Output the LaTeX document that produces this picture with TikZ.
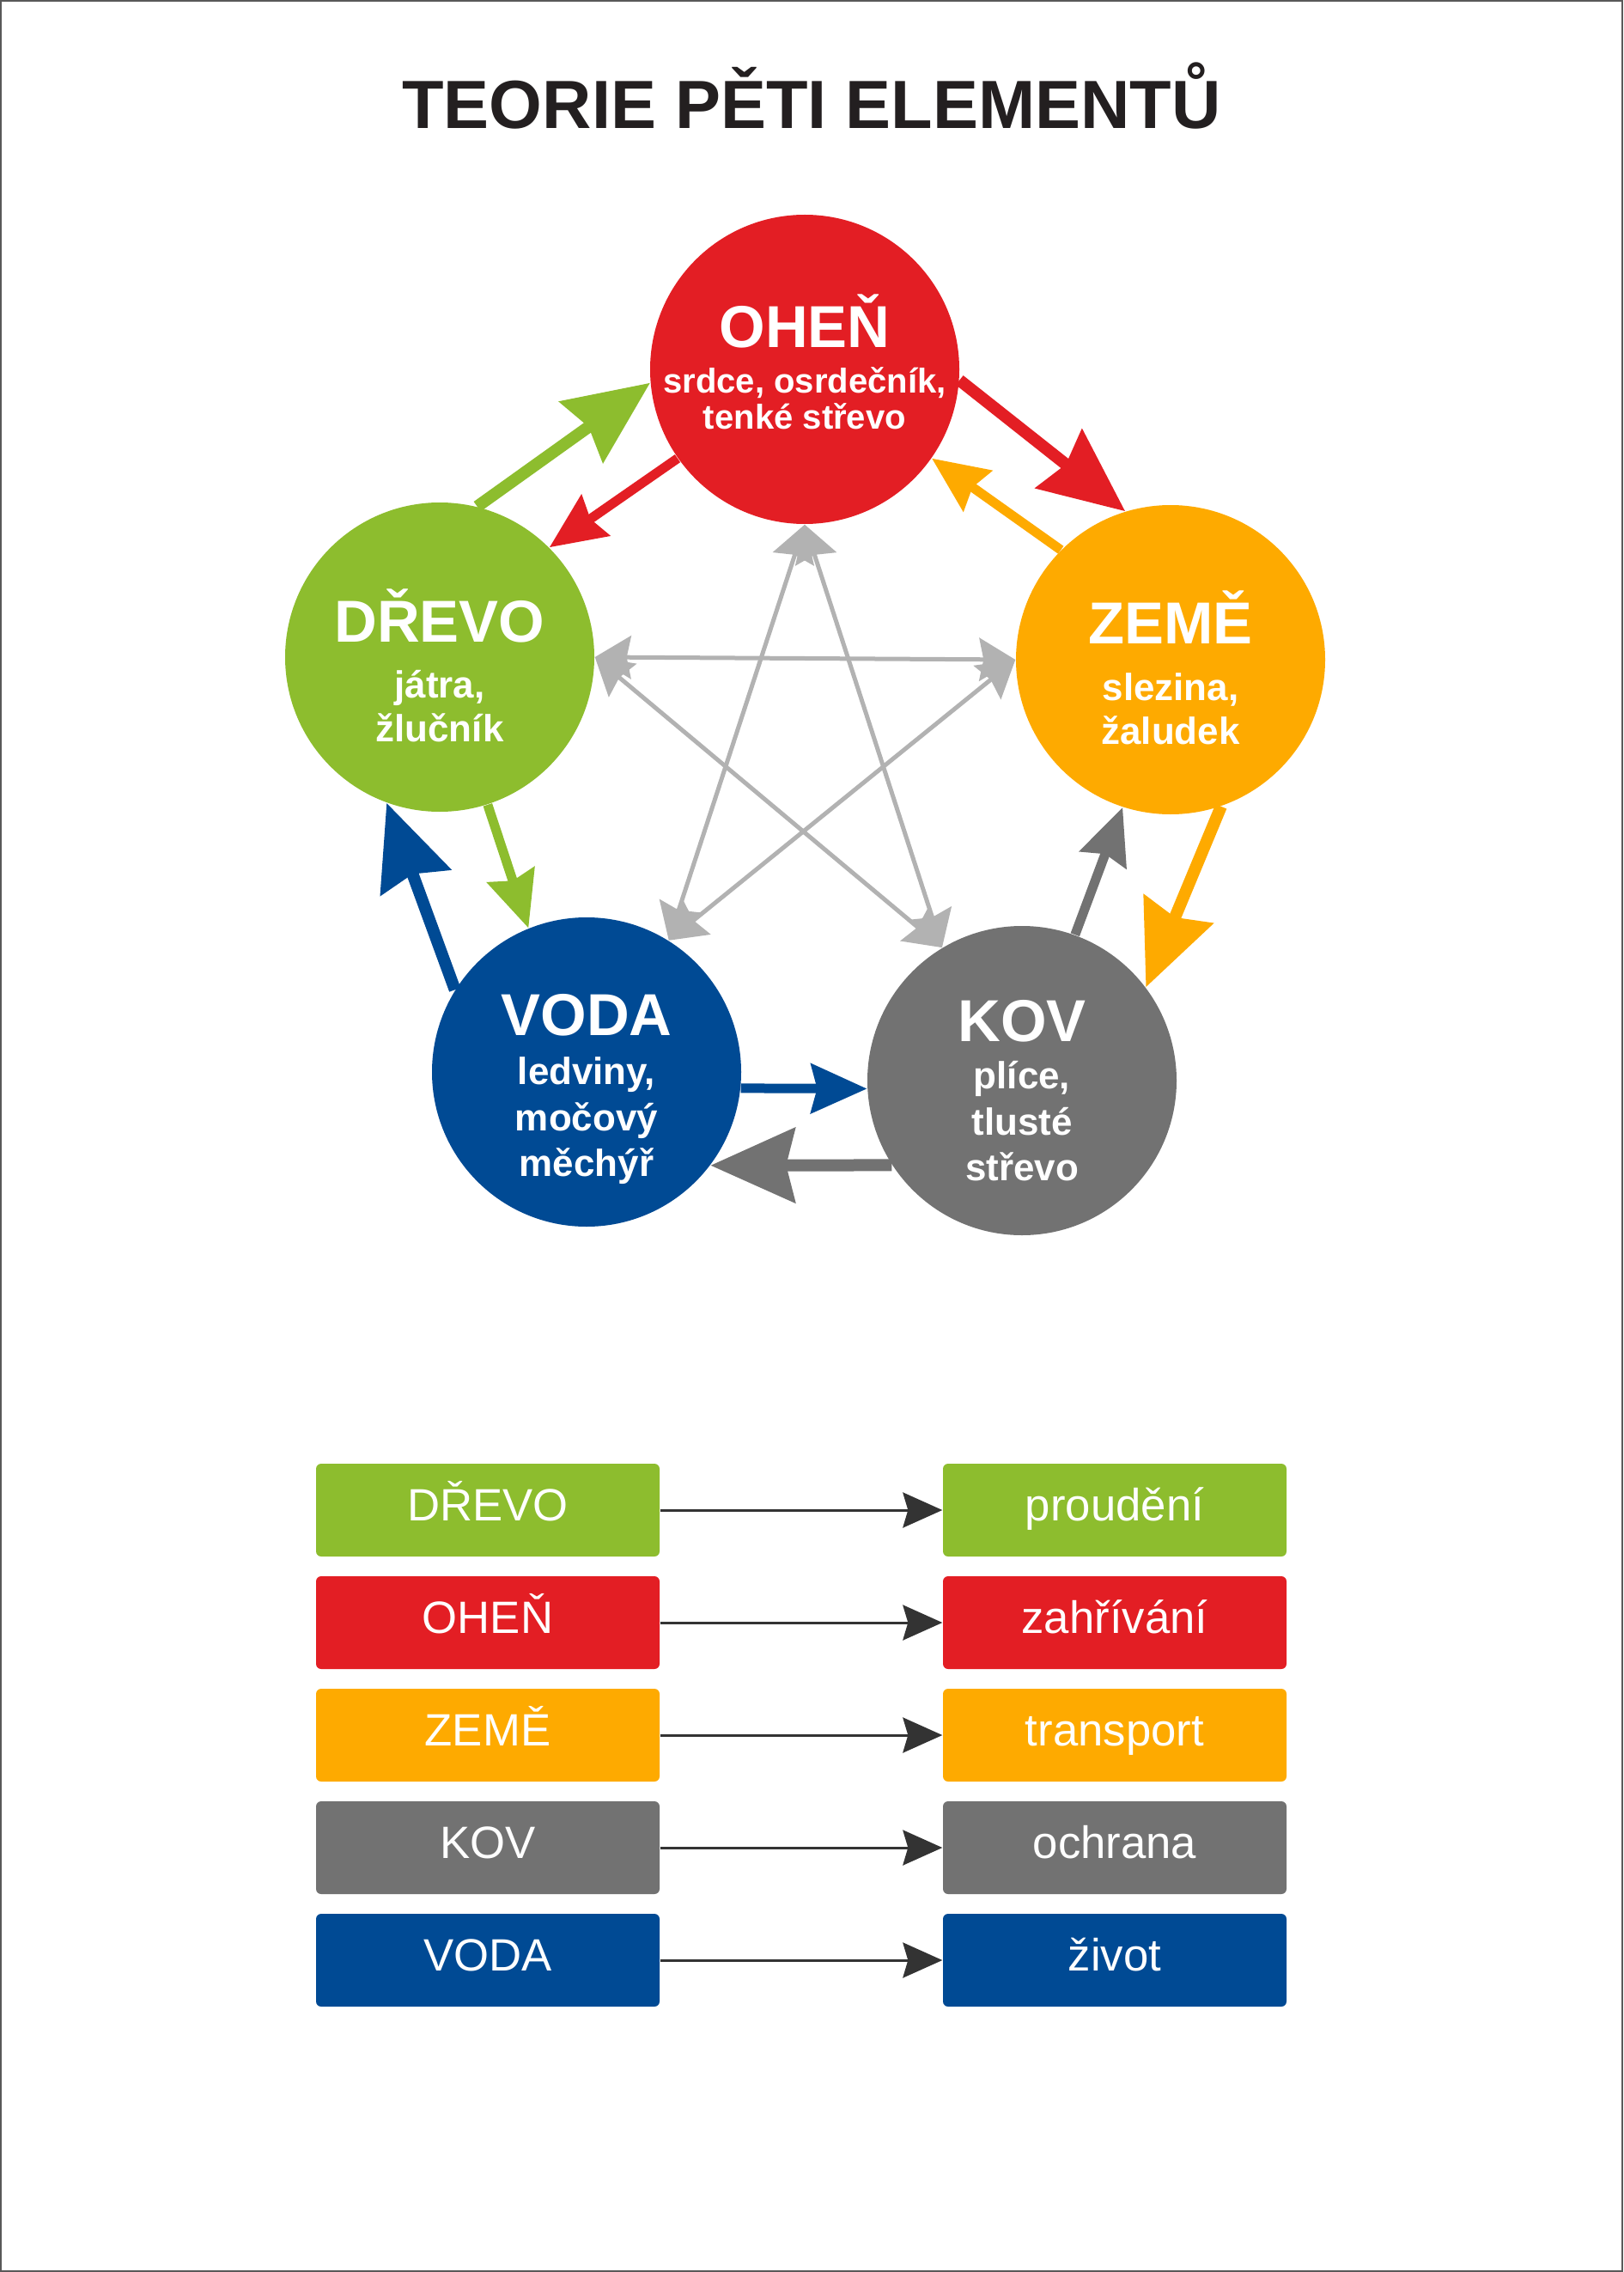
\documentclass[tikz,border=0pt]{standalone}
\usepackage{fontspec}
\setmainfont{Liberation Sans}
\usetikzlibrary{arrows.meta,calc}

\definecolor{drevo}{RGB}{141,189,46}
\definecolor{ohen}{RGB}{227,30,36}
\definecolor{zeme}{RGB}{254,170,0}
\definecolor{kov}{RGB}{114,114,114}
\definecolor{voda}{RGB}{0,74,148}
\definecolor{hvezdacol}{RGB}{178,178,178}
\definecolor{titlecol}{RGB}{35,31,32}

\tikzset{
  prvek/.style={circle, fill=#1, minimum size=3.6cm, inner sep=0pt},
  nazev/.style={anchor=base, text=white, inner sep=0pt, font=\bfseries\fontsize{19.6}{22}\selectfont},
  organy/.style={anchor=north, align=center, text=white, inner sep=0pt, font=\bfseries\fontsize{12.5}{15.2}\selectfont},
  tah/.style={draw=#1, line width=0.14cm, -{Stealth[length=0.98cm,width=0.86cm,inset=0.1cm]}},
  zpet/.style={draw=#1, line width=0.11cm, -{Stealth[length=0.65cm,width=0.57cm,inset=0.07cm]}},
  hvezda/.style={draw=hvezdacol, line width=0.05cm,
    {Stealth[length=0.42cm,width=0.5cm,inset=0.05cm]}-{Stealth[length=0.42cm,width=0.5cm,inset=0.05cm]}},
  legbox/.style={fill=#1, rounded corners=0.06cm, minimum width=4cm, minimum height=1.08cm,
    text height=0.72em, text depth=0pt, text=white, font=\fontsize{15}{18}\selectfont},
  legarrow/.style={draw=black!80, line width=0.03cm, -{Stealth[length=0.46cm,width=0.41cm,inset=0.06cm]}}
}

\begin{document}
\begin{tikzpicture}
\useasboundingbox (0,0) rectangle (18.9,-26.45);
\draw[draw=black!65, line width=0.025cm] (0.0125,-0.0125) rectangle (18.8875,-26.4375);

\node[anchor=base, text=titlecol, font=\bfseries\fontsize{22.6}{26}\selectfont] (title) at (9.45,-1.50) {TEORIE PĚTI ELEMENTŮ};

% the five elements
\node[prvek=ohen] (O) at (9.37,-4.30) {};
\node[prvek=drevo] (D) at (5.12,-7.65) {};
\node[prvek=zeme] (Z) at (13.63,-7.68) {};
\node[prvek=voda] (V) at (6.83,-12.48) {};
\node[prvek=kov] (K) at (11.90,-12.58) {};

\node[nazev] (Ot) at ($(O)+(0,0.25)$) {OHEŇ};
\node[organy, font=\bfseries\fontsize{11.4}{12}\selectfont] (Oo) at ($(O)+(0,0.13)$) {\rule{0pt}{1em}srdce, osrdečník,\\tenké střevo};
\node[nazev] (Dt) at ($(D)+(0,0.18)$) {DŘEVO};
\node[organy, font=\bfseries\fontsize{12.5}{14.5}\selectfont] (Do) at ($(D)+(0,-0.03)$) {\rule{0pt}{1em}játra,\\žlučník};
\node[nazev] (Zt) at ($(Z)+(0,0.19)$) {ZEMĚ};
\node[organy, font=\bfseries\fontsize{12.5}{14.5}\selectfont] (Zo) at ($(Z)+(0,-0.03)$) {\rule{0pt}{1em}slezina,\\žaludek};
\node[nazev] (Vt) at ($(V)+(0,0.43)$) {VODA};
\node[organy] (Vo) at ($(V)+(0,0.30)$) {\rule{0pt}{1em}ledviny,\\močový\\měchýř};
\node[nazev] (Kt) at ($(K)+(0,0.46)$) {KOV};
\node[organy] (Ko) at ($(K)+(0,0.35)$) {\rule{0pt}{1em}plíce,\\tlusté\\střevo};

% star
\draw[hvezda] (O.south) -- (V.58);
\draw[hvezda] (O.south) -- (K.121);
\draw[hvezda] (D.east) -- (Z.west);
\draw[hvezda] (D.east) -- (K.121);
\draw[hvezda] (Z.west) -- (V.58);

% outer cycle
\draw[tah=drevo] (D.76) -- (O.185);
\draw[zpet=ohen] (O.215) -- (D.45);
\draw[tah=ohen] (O.-4) -- (Z.107);
\draw[zpet=zeme] (Z.135) -- (O.-35);
\draw[tah=zeme] (Z.-71) -- (K.37);
\draw[zpet=kov] (K.70) -- (Z.252);
\draw[tah=kov] (K.213) -- (V.-37);
\draw[zpet=voda] (V.-6) -- (K.183);
\draw[tah=voda] (V.148) -- (D.250);
\draw[zpet=drevo] (D.-72) -- (V.112);

% legend
\foreach \a/\b/\c [count=\i] in {DŘEVO/proudění/drevo, OHEŇ/zahřívání/ohen, ZEMĚ/transport/zeme, KOV/ochrana/kov, VODA/život/voda}{
  \node[legbox=\c] (L\i) at (5.68,{-17.58-1.31*(\i-1)}) {\a};
  \node[legbox=\c] (R\i) at (12.98,{-17.58-1.31*(\i-1)}) {\b};
  \draw[legarrow] (L\i) -- (R\i);
}
\end{tikzpicture}
\end{document}
